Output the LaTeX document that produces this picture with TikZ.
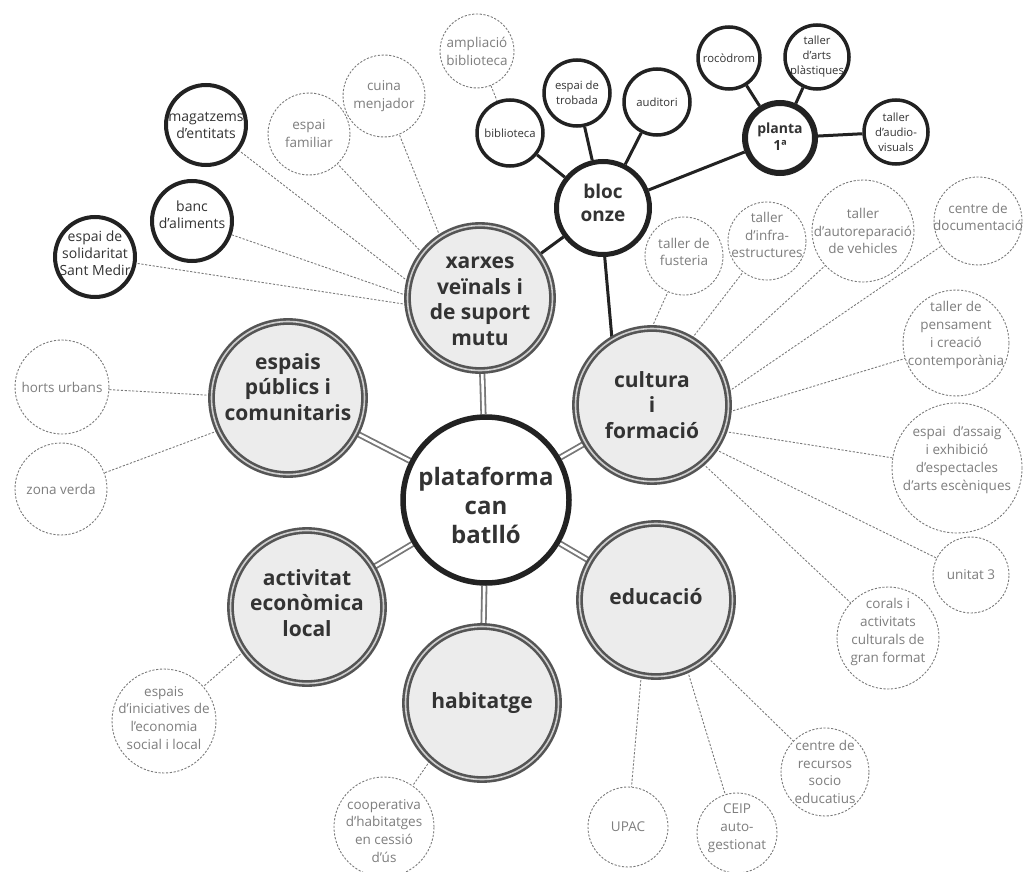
\documentclass[tikz,border=0pt]{standalone}
\usepackage{fontspec}
\setmainfont{Open Sans}
\usepackage{tikz}
\usetikzlibrary{backgrounds}
\definecolor{ink}{HTML}{222222}
\definecolor{ringgray}{HTML}{555555}
\definecolor{ringlight}{HTML}{CFCFCF}
\definecolor{areafill}{HTML}{ECECEC}
\definecolor{dashgray}{HTML}{7A7A7A}
\definecolor{softtext}{HTML}{7E7E7E}
\definecolor{darktext}{HTML}{333333}
\tikzset{
  ball/.style={circle, inner sep=0pt, minimum size=#1, fill=white},
  hub/.style={ball=#1, draw=ink, line width=5.5pt},
  area/.style={ball=#1, fill=areafill, draw=ringgray, double=ringlight, line width=2.6pt, double distance=1.6pt},
  room/.style={ball=#1, draw=ink, line width=3.5pt},
  idea/.style={ball=#1, draw=dashgray, line width=0.9pt, dash pattern=on 2.2pt off 1.6pt},
  tx/.style={align=center, inner sep=0pt, draw=none, fill=none},
  hubtxt/.style={tx, font=\fontsize{24}{29}\selectfont\bfseries, text=darktext},
  areatxt/.style={tx, font=\fontsize{21}{25.5}\selectfont\bfseries, text=darktext},
  bloctxt/.style={tx, font=\fontsize{19}{23}\selectfont\bfseries, text=darktext},
  plantatxt/.style={tx, font=\fontsize{14}{17}\selectfont\bfseries, text=darktext},
  roomtxt/.style={tx, font=\fontsize{11.3}{15}\selectfont, text=darktext},
  bigroomtxt/.style={tx, font=\fontsize{14}{17}\selectfont, text=darktext},
  ideatxt/.style={tx, font=\fontsize{13.5}{17.8}\selectfont, text=softtext},
  twin/.style={draw=ringgray!80, double=white, line width=1.8pt, double distance=2.6pt},
  stem/.style={draw=ink, line width=3pt},
  thread/.style={draw=dashgray, line width=0.9pt, dash pattern=on 2.2pt off 1.6pt}
}

\begin{document}
\begin{tikzpicture}[x=1pt, y=-1pt]
  \useasboundingbox (0,0) rectangle (1033,872);

  % Centre and the six areas
  \node[hub=166, label={[hubtxt, yshift=-5pt]center:plataforma\\can\\batlló}] (plataforma) at (486,500) {};
  \node[area=145, label={[areatxt, yshift=-3pt]center:xarxes\\veïnals i\\de suport\\mutu}] (xarxes) at (480,298) {};
  \node[area=153, label={[areatxt, yshift=11pt]center:espais\\públics i\\comunitaris}] (espais) at (288,398) {};
  \node[area=153, label={[areatxt]center:cultura\\i\\formació}] (cultura) at (652,405) {};
  \node[area=153, label={[areatxt, yshift=4pt]center:activitat\\econòmica\\local}] (activitat) at (307,607) {};
  \node[area=153, label={[areatxt]center:habitatge}] (habitatge) at (482,703) {};
  \node[area=153, label={[areatxt, yshift=3pt]center:educació}] (educacio) at (656,600) {};

  % Bloc onze and its rooms
  \node[hub=93, line width=5pt, label={[bloctxt, yshift=5pt]center:bloc\\onze}] (bloc) at (603,208) {};
  \node[hub=70, line width=6pt, label={[plantatxt, yshift=1pt]center:planta\\1ª}] (planta) at (780,138) {};
  \node[room=66, label={[roomtxt]center:biblioteca}] (biblioteca) at (510,133) {};
  \node[room=66, label={[roomtxt]center:espai de\\trobada}] (trobada) at (577,93) {};
  \node[room=66, label={[roomtxt]center:auditori}] (auditori) at (657,102) {};
  \node[room=62, label={[roomtxt]center:rocòdrom}] (rocodrom) at (729,58) {};
  \node[room=64, label={[roomtxt]center:taller\\d’arts\\plàstiques}] (arts) at (817,57) {};
  \node[room=64, label={[roomtxt]center:taller\\d’audio-\\visuals}] (audiovisuals) at (896,132) {};

  % Rooms of xarxes
  \node[room=80, line width=4pt, label={[bigroomtxt]center:magatzems\\d’entitats}] (magatzems) at (206,125) {};
  \node[room=80, line width=4pt, label={[bigroomtxt, yshift=6pt]center:banc\\d’aliments}] (banc) at (192,221) {};
  \node[room=80, line width=4pt, label={[bigroomtxt, yshift=4pt]center:espai de\\solidaritat\\Sant Medir}] (solidaritat) at (95,257) {};

  % Dashed ideas
  \node[idea=82, label={[ideatxt]center:espai\\familiar}] (familiar) at (309,134) {};
  \node[idea=82, label={[ideatxt]center:cuina\\menjador}] (cuina) at (384,96) {};
  \node[idea=74, label={[ideatxt]center:ampliació\\biblioteca}] (ampliacio) at (477,51) {};
  \node[idea=78, label={[ideatxt, yshift=4pt]center:taller de\\fusteria}] (fusteria) at (684,256) {};
  \node[idea=78, label={[ideatxt, yshift=6pt]center:taller\\d’infra-\\estructures}] (infra) at (767,241) {};
  \node[idea=102, label={[ideatxt]center:taller\\d’autoreparació\\de vehicles}] (autorep) at (863,231) {};
  \node[idea=88, label={[ideatxt, yshift=4pt]center:centre de\\documentació}] (documentacio) at (978,221) {};
  \node[idea=106, label={[ideatxt, yshift=8pt]center:taller de\\pensament\\i creació\\contemporània}] (pensament) at (956,343) {};
  \node[idea=130, label={[ideatxt, yshift=8pt]center:espai\ \ d’assaig\\i exhibició\\d’espectacles\\d’arts escèniques}] (assaig) at (957,468) {};
  \node[idea=76, label={[ideatxt]center:unitat 3}] (unitat) at (971,575) {};
  \node[idea=102, label={[ideatxt, yshift=6pt]center:corals i\\activitats\\culturals de\\gran format}] (corals) at (888,638) {};
  \node[idea=80, label={[ideatxt]center:UPAC}] (upac) at (628,827) {};
  \node[idea=80, label={[ideatxt, yshift=5pt]center:CEIP\\auto-\\gestionat}] (ceip) at (737,833) {};
  \node[idea=88, label={[ideatxt]center:centre de\\recursos\\socio\\educatius}] (recursos) at (825,772) {};
  \node[idea=94, label={[ideatxt]center:horts urbans}] (horts) at (62,387) {};
  \node[idea=92, label={[ideatxt]center:zona verda}] (zona) at (61,489) {};
  \node[idea=104, label={[ideatxt, yshift=3pt]center:espais\\d’iniciatives de\\l’economia\\social i local}] (iniciatives) at (164,721) {};
  \node[idea=100, label={[ideatxt, yshift=-4pt]center:cooperativa\\d’habitatges\\en cessió\\d’ús}] (cooperativa) at (384,827) {};

  % Connectors
  \begin{scope}[on background layer]
    \foreach \a in {xarxes,espais,cultura,activitat,habitatge,educacio}
      \draw[twin] (plataforma) -- (\a);
    \draw[stem] (bloc) -- (xarxes);
    \draw[stem] (bloc.272) -- (cultura.121);
    \foreach \r in {biblioteca,trobada,auditori,planta}
      \draw[stem] (bloc) -- (\r);
    \foreach \r in {rocodrom,arts,audiovisuals}
      \draw[stem] (planta) -- (\r);
    \draw[thread] (ampliacio) -- (biblioteca);
    \foreach \t/\a in {cuina/123, familiar/142, magatzems/167, banc/178, solidaritat/185}
      \draw[thread] (xarxes.\a) -- (\t);
    \foreach \t/\a in {fusteria/90, infra/59, autorep/32, documentacio/10, pensament/-5, assaig/-20, unitat/-35, corals/-49}
      \draw[thread] (cultura.\a) -- (\t);
    \foreach \t/\a in {upac/259, ceip/294, recursos/312}
      \draw[thread] (educacio.\a) -- (\t);
    \draw[thread] (espais.178) -- (horts);
    \draw[thread] (espais.205) -- (zona);
    \draw[thread] (activitat.215) -- (iniciatives);
    \draw[thread] (habitatge.228) -- (cooperativa);
  \end{scope}
\end{tikzpicture}
\end{document}
